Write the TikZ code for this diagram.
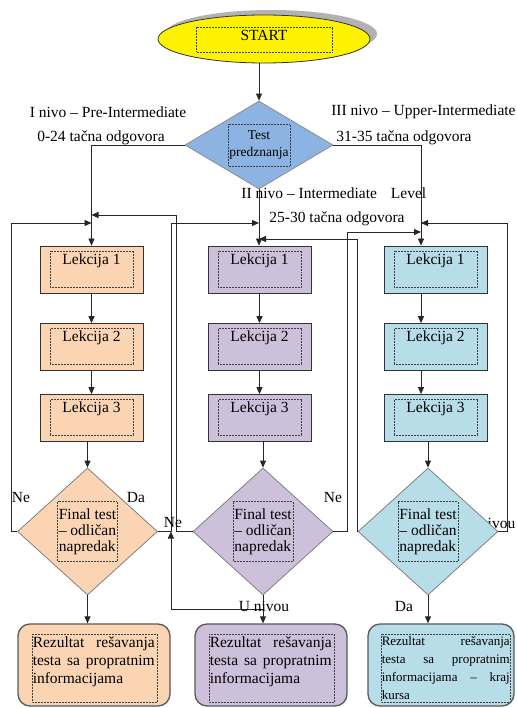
\documentclass[tikz,border=0pt]{standalone}
\usepackage{fontspec}
\setmainfont{Liberation Serif}
\usetikzlibrary{positioning,arrows.meta,shapes.geometric,shadows}
\definecolor{peach}{HTML}{FBD4B4}
\definecolor{lilac}{HTML}{CCC0DA}
\definecolor{aqua}{HTML}{B7DDE8}
\definecolor{testblue}{HTML}{8DB3E2}
\tikzset{
  chart/.style={x=1pt,y=-1pt,line width=0.8pt,on grid,>={Triangle[length=7pt,width=6pt]},
    every node/.style={font=\fontsize{15.5}{18}\selectfont,inner sep=0pt}},
  link/.style={->,draw=black!85},
  dotbox/.style={draw=black!75,densely dotted,line width=0.5pt,sharp corners},
  inset/.style n args={4}{path picture={\draw[dotbox]
      ([shift={(#1,-#2)}]path picture bounding box.north west) rectangle
      ([shift={(-#3,#4)}]path picture bounding box.south east);}},
  startnode/.style={ellipse,draw=black!80,fill=yellow,minimum width=212pt,minimum height=48pt,
    text height=11pt,text depth=7pt,
    drop shadow={shadow xshift=7pt,shadow yshift=5pt,fill=black!30,opacity=1},
    inset={38pt}{12pt}{38pt}{11pt}},
  test/.style={diamond,draw=black!45,fill=testblue,minimum width=148pt,minimum height=80pt,
    align=center,font=\fontsize{13.5}{17}\selectfont,inset={43pt}{23pt}{43pt}{23pt}},
  lesson/.style={rectangle,draw=black!80,minimum width=103pt,inner ysep=7pt,
    text height=11pt,text depth=22pt,inset={10pt}{5pt}{10pt}{6pt}},
  final/.style={diamond,draw=black!50,minimum width=140pt,minimum height=127pt,
    align=left,font=\fontsize{15.5}{16}\selectfont,
    inset={40pt}{33.5pt}{40pt}{33.5pt}},
  result/.style={rectangle,rounded corners=12pt,draw=black!65,line width=1.3pt,minimum height=82pt},
  restext/.style={anchor=north west,align=justify,text width=#1},
}
\begin{document}
\begin{tikzpicture}[chart]
  \path[use as bounding box,fill=white] (0,0) rectangle (516,708);
  \node[startnode] (start) at (264,39) {START};
  \node[test] (t) at (259,145) {Test\\predznanja};

  % I nivo
  \node[lesson,fill=peach] (a1) at (91.5,269.5) {Lekcija 1};
  \node[lesson,fill=peach] (a2) [below=77.5pt of a1] {Lekcija 2};
  \node[lesson,fill=peach] (a3) [below=71pt of a2] {Lekcija 3};
  \node[final,fill=peach] (d1) at (87.5,531.5) {Final test\\– odličan\\napredak};
  \node[result,fill=peach,minimum width=152pt,inset={14pt}{10pt}{13pt}{4pt}] (r1) at (94,665) {};
  \node[restext=122pt] (r1t) at ([shift={(15pt,-13pt)}]r1.north west)
    {Rezultat rešavanja\linebreak testa sa propratnim\linebreak informacijama};

  % II nivo
  \node[lesson,fill=lilac] (b1) at (259.5,269.5) {Lekcija 1};
  \node[lesson,fill=lilac] (b2) [below=77.5pt of b1] {Lekcija 2};
  \node[lesson,fill=lilac] (b3) [below=71pt of b2] {Lekcija 3};
  \node[final,fill=lilac] (d2) at (263,531.5) {Final test\\– odličan\\napredak};
  \node[result,fill=lilac,minimum width=152pt,inset={14pt}{10pt}{13pt}{4pt}] (r2) at (271,665) {};
  \node[restext=122pt] (r2t) at ([shift={(15pt,-13pt)}]r2.north west)
    {Rezultat rešavanja\linebreak testa sa propratnim\linebreak informacijama};

  % III nivo
  \node[lesson,fill=aqua] (c1) at (435.5,269.5) {Lekcija 1};
  \node[lesson,fill=aqua] (c2) [below=77.5pt of c1] {Lekcija 2};
  \node[lesson,fill=aqua] (c3) [below=71pt of c2] {Lekcija 3};
  \node (nv3) at (501.5,523) {ivou};
  \node[final,fill=aqua] (d3) at (428,531.5) {Final test\\– odličan\\napredak};
  \node[result,fill=aqua,minimum width=146pt,inset={13pt}{10pt}{4pt}{4pt}] (r3) at (441,665) {};
  \node[restext=128pt,font=\fontsize{13}{18}\selectfont] (r3t) at ([shift={(14pt,-13pt)}]r3.north west)
    {Rezultat rešavanja\linebreak testa sa propratnim\linebreak informacijama – kraj\linebreak kursa};

  % junctions on the entry lines
  \coordinate (in1a) at (91.5,215);
  \coordinate (in1b) at (91.5,223);
  \coordinate (in2a) at (259,223);
  \coordinate (in2b) at (259,239);
  \coordinate (in3a) at (421,223);
  \coordinate (in3b) at (421,232);
  \coordinate (u2) at (263,609);

  \draw[link] (t.north |- start.south) -- (t.north);
  \draw[link] (t.west) -| (a1.north);
  \draw[link] (t.south) -- (t.south |- b1.north);
  \draw[link] (t.east) -| ([xshift=-14.5pt]c1.north);

  \draw[link] (a1) -- (a2);
  \draw[link] (a2) -- (a3);
  \draw[link] (d1.north |- a3.south) -- (d1.north);
  \draw[link] (b1) -- (b2);
  \draw[link] (b2) -- (b3);
  \draw[link] (d2.north |- b3.south) -- (d2.north);
  \draw[link] ([xshift=-14.5pt]c1.south) -- ([xshift=-14.5pt]c2.north);
  \draw[link] ([xshift=-14.5pt]c2.south) -- ([xshift=-14.5pt]c3.north);
  \draw[link] (d3.north |- c3.south) -- (d3.north);

  \draw[link] (d1.south) -- (d1.south |- r1.north);
  \draw[link] (d2.south) -- (d2.south |- r2.north);
  \draw[link] (d3.south) -- (d3.south |- r3.north);

  % povratne veze
  \draw[link] (d1.west) -- ++(-6,0) |- (in1b);
  \draw[link] (d1.east) -- ++(13,0) |- (in2a);
  \draw[link] (u2) -| ([xshift=13pt]d1.east);
  \draw[link] (d2.west) -- ++(-16,0) |- (in1a);
  \draw[link] (d2.east) -- ++(14,0) |- (in3b);
  \draw[link] (d3.west) |- (in2b);
  \draw[link] (d3.east) -- ++(9,0) |- (in3a);

  \node (l1) at (108,112) {I nivo – Pre-Intermediate};
  \node (l2) at (101,138) {0-24 tačna odgovora};
  \node[anchor=east] (l3) at (516,112) {III nivo – Upper-Intermediate};
  \node (l4) at (404,138) {31-35 tačna odgovora};
  \node[anchor=west] (l5) at (241,193) {II nivo – Intermediate\hspace{14pt}Level};
  \node (l6) at (337,219) {25-30 tačna odgovora};
  \node (ne1) at (21,497) {Ne};
  \node (da1) at (136,497) {Da};
  \node (ne2) at (173,522) {Ne};
  \node (ne3) at (333,497) {Ne};
  \node (un2) at (264,606) {U nivou};
  \node (da3) at (404,606) {Da};
\end{tikzpicture}
\end{document}
